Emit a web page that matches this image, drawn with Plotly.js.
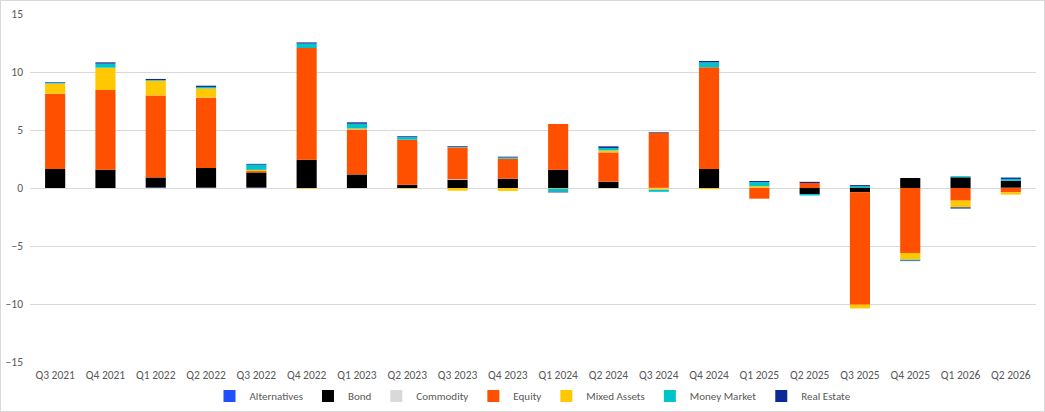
<!DOCTYPE html>
<html>
<head>
<meta charset="utf-8">
<script src="https://cdn.plot.ly/plotly-3.0.1.min.js"></script>
<style>
  body { margin: 0; background: #fff; }
  #chart { width: 1045px; height: 412px; box-sizing: border-box; border: 1px solid #d9d9d9; }
</style>
</head>
<body>
<div id="chart"></div>
<script>
let quarters = ['Q3 2021', 'Q4 2021', 'Q1 2022', 'Q2 2022', 'Q3 2022', 'Q4 2022', 'Q1 2023', 'Q2 2023',
    'Q3 2023', 'Q4 2023', 'Q1 2024', 'Q2 2024', 'Q3 2024', 'Q4 2024', 'Q1 2025', 'Q2 2025',
    'Q3 2025', 'Q4 2025', 'Q1 2026', 'Q2 2026'];

let alternatives = [0, 0, 0.04, 0.03, 0.04, 0, 0, 0, 0, 0, 0, 0, 0, 0, 0, 0, 0, 0, 0, 0.03];
let bond = [1.64, 1.58, 0.87, 1.7, 1.3, 2.44, 1.17, 0.28, 0.72, 0.8, 1.58, 0.54, 0.02, 1.64, 0, -0.52, -0.37, 0.86, 0.92, 0.6];
let commodity = [0, 0, 0, 0, 0, 0, 0, 0, 0.05, 0, 0, 0, -0.04, 0, 0, 0, 0, 0, 0, 0];
let equity = [6.49, 6.87, 7.07, 6.06, 0.12, 9.63, 3.88, 3.88, 2.73, 1.73, 3.94, 2.53, 4.72, 8.76, -0.92, 0.43, -9.69, -5.6, -1.09, -0.37];
let mixedAssets = [0.87, 1.92, 1.27, 0.8, 0.1, -0.05, 0.08, -0.05, -0.23, -0.25, -0.05, 0.17, -0.12, -0.1, 0.15, 0, -0.32, -0.58, -0.58, -0.2];
let moneyMarket = [0.08, 0.35, 0.05, 0.12, 0.45, 0.38, 0.41, 0.22, 0.06, 0.1, -0.27, 0.21, -0.17, 0.43, 0.35, -0.13, 0.15, -0.07, 0.1, 0.15];
let realEstate = [0.05, 0.11, 0.1, 0.11, 0.07, 0.1, 0.12, 0.08, 0.06, 0.07, -0.06, 0.14, 0.06, 0.12, 0.1, 0.1, 0.1, -0.05, -0.1, 0.12];

let yTicks = [-15, -10, -5, 0, 5, 10, 15];

let series = [
    { name: 'Alternatives', y: alternatives, color: '#1f4fff' },
    { name: 'Bond', y: bond, color: '#000000' },
    { name: 'Commodity', y: commodity, color: '#d9d9d9' },
    { name: 'Equity', y: equity, color: '#ff5000' },
    { name: 'Mixed Assets', y: mixedAssets, color: '#ffc800' },
    { name: 'Money Market', y: moneyMarket, color: '#00c4cc' },
    { name: 'Real Estate', y: realEstate, color: '#0b2a96' }
];

let data = series.map(function (s) {
    return {
        type: 'bar',
        name: s.name,
        x: quarters,
        y: s.y,
        marker: { color: s.color }
    };
});

let fontFamily = 'Carlito, Lato, "Open Sans", sans-serif';

let layout = {
    width: 1043,
    height: 410,
    barmode: 'relative',
    bargap: 0.6,
    paper_bgcolor: '#ffffff',
    plot_bgcolor: '#ffffff',
    font: { family: fontFamily, size: 11.5, color: '#595959' },
    margin: { l: 29, r: 8, t: 13, b: 49, autoexpand: false },
    xaxis: {
        type: 'category',
        showgrid: false,
        showline: false,
        ticks: '',
        ticklabelstandoff: 4,
        tickfont: { size: 11.5, color: '#595959' }
    },
    yaxis: {
        range: [-15, 15],
        tickvals: yTicks,
        showgrid: true,
        gridcolor: '#d9d9d9',
        zeroline: true,
        zerolinecolor: '#d9d9d9',
        zerolinewidth: 1,
        showline: false,
        ticks: '',
        ticklabelstandoff: 6,
        tickfont: { size: 11.5, color: '#595959' }
    },
    legend: {
        orientation: 'h',
        x: 0.5,
        xanchor: 'center',
        y: -0.056,
        yanchor: 'top',
        font: { size: 11, color: '#595959' },
        itemwidth: 30
    },
    showlegend: true
};

Plotly.newPlot('chart', data, layout, { displayModeBar: false, staticPlot: true });
</script>
</body>
</html>
